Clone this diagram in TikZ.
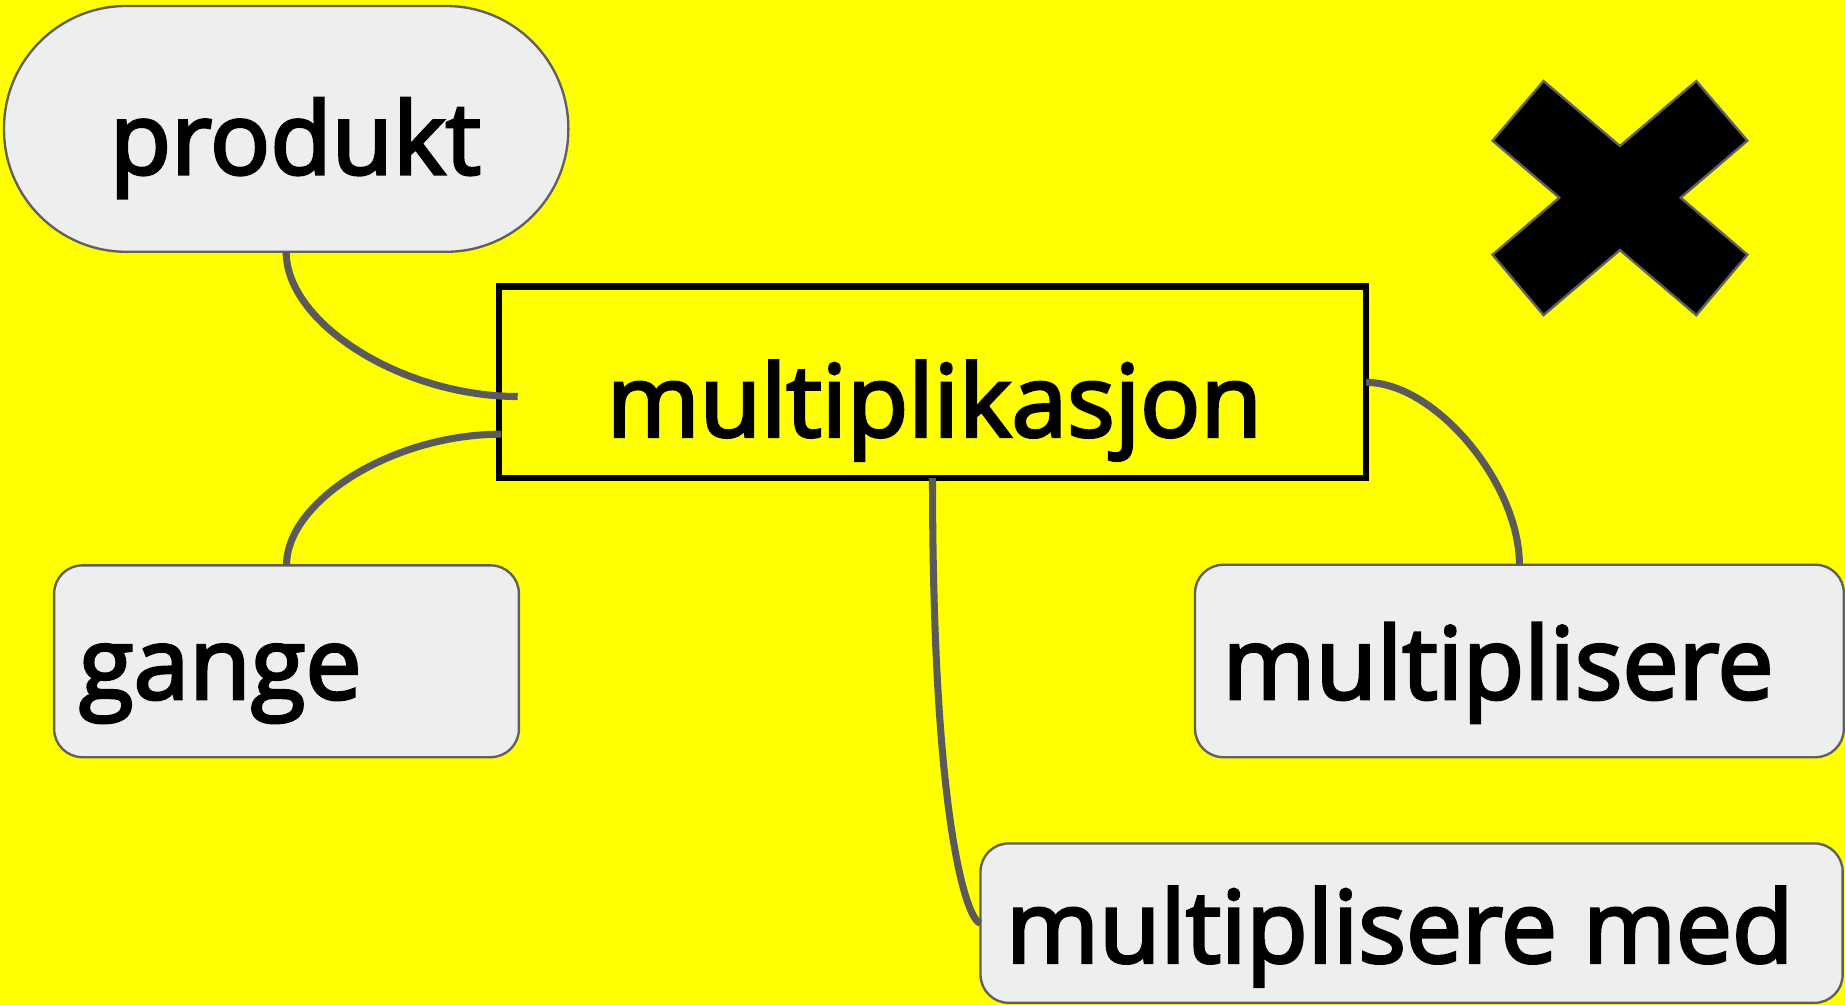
\documentclass[tikz,border=0pt]{standalone}
\usepackage{fontspec}
\setmainfont{Open Sans}
\newfontfamily\lblfont[FakeBold=3]{Open Sans}
\usetikzlibrary{calc}
\definecolor{bgyellow}{HTML}{FFFF00}
\definecolor{leafgray}{HTML}{EEEEEE}
\definecolor{bordergray}{HTML}{606060}
\definecolor{conngray}{HTML}{5A5A5A}
\tikzset{
  leaf/.style={draw=bordergray, line width=1pt, fill=leafgray, inner sep=0pt, outer sep=0pt},
  centerbox/.style={draw=black, line width=2.8pt, inner sep=0pt, outer sep=0pt},
  conn/.style={draw=conngray, line width=3pt},
  lbl/.style={inner sep=0pt, outer sep=0pt, font=\lblfont\fontsize{42.5}{50}\selectfont, text=black},
  xmark/.style={fill=black, draw=bordergray, line width=1pt, line join=miter}
}
\begin{document}
\begin{tikzpicture}[x=0.5pt, y=-0.5pt]
  % background
  \fill[bgyellow] (0,0) rectangle (1568,854);
  \useasboundingbox (0,0) rectangle (1568,854);

  % central box
  \node[centerbox, minimum width=368.5pt, minimum height=81.35pt] (mult) at (792.5,325) {};
  \node[lbl, anchor=base] (multT) at (794,371) {multiplikasjon};

  % leaves
  \node[leaf, minimum width=239.8pt, minimum height=104.45pt, rounded corners=52pt] (produkt) at (243.2,109.55) {};
  \node[lbl, anchor=base] (produktT) at (251,148) {produkt};

  \node[leaf, minimum width=197.5pt, minimum height=81.5pt, rounded corners=12pt] (gange) at (243.5,562) {};
  \node[lbl, anchor=base west] (gangeT) at (67,594) {gange};

  \node[leaf, minimum width=275.7pt, minimum height=81.75pt, rounded corners=12pt] (mplis) at (1291.3,561.75) {};
  \node[lbl, anchor=base west] (mplisT) at (1039,594) {multiplisere};

  \node[leaf, minimum width=366.35pt, minimum height=67.75pt, rounded corners=12pt] (mplismed) at (1199.65,784.55) {};
  \node[lbl, anchor=base west] (mplismedT) at (855,818) {multiplisere med};

  % connectors
  \draw[conn] (produkt.south) .. controls +(0,61) and +(-98,0) .. ($(mult.west)+(16,12)$);
  \draw[conn] (gange.north) .. controls +(0,-55) and +(-92,0) .. ($(mult.west)+(2,44)$);
  \draw[conn] (mult.east) .. controls +(59,0) and +(0,-69) .. (mplis.north);
  \draw[conn] (mult.south) .. controls +(0,300) and +(-10,0) .. (mplismed.west);

  % X mark
  \draw[xmark] (1311.8,68.9) -- (1268.5,119.6) -- (1325.2,168) -- (1268.5,216.5)
     -- (1311.8,267.8) -- (1376.7,212.5) -- (1441.6,267.8) -- (1485,216.5)
     -- (1428.3,168) -- (1485,119.6) -- (1441.6,68.9) -- (1376.7,124.1) -- cycle;
\end{tikzpicture}
\end{document}
